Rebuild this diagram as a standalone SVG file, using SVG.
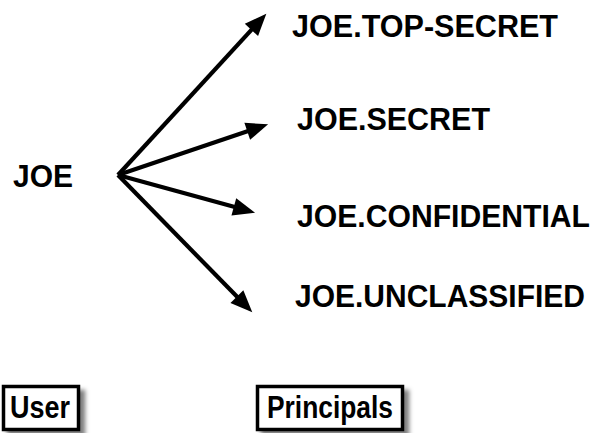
<svg xmlns="http://www.w3.org/2000/svg" width="597" height="433" viewBox="0 0 597 433">
<style>
.lbl{font-family:"Liberation Sans",Arial,sans-serif;font-weight:bold;font-size:30.5px;fill:#000}
.box{fill:#fff;stroke:#000;stroke-width:3.5}
.btxt{font-family:"Liberation Sans",Arial,sans-serif;font-weight:bold;font-size:32px;fill:#000}
.conn{stroke:#000;stroke-width:4.2;fill:none;marker-end:url(#ah)}
</style>
<defs>
<marker id="ah" markerUnits="userSpaceOnUse" markerWidth="24" markerHeight="20" refX="1" refY="9" orient="auto" overflow="visible">
<path d="M0,0 L22,9 L0,18 Z" fill="#000"/>
</marker>
<filter id="sh" x="-20%" y="-20%" width="150%" height="150%">
<feDropShadow dx="5" dy="5" stdDeviation="2" flood-color="#000" flood-opacity="0.5"/>
</filter>
</defs>
<g id="connectors">
<line class="conn" x1="118" y1="175" x2="252.1" y2="29.2"/>
<line class="conn" x1="118" y1="175" x2="248.2" y2="131.0"/>
<line class="conn" x1="118" y1="175" x2="234.8" y2="207.1"/>
<line class="conn" x1="118" y1="175" x2="237.6" y2="297.3"/>
</g>
<g id="joe"><text class="lbl" x="13" y="187" textLength="60" lengthAdjust="spacingAndGlyphs">JOE</text></g>
<g id="top-secret"><text class="lbl" x="292" y="37" textLength="266" lengthAdjust="spacingAndGlyphs">JOE.TOP-SECRET</text></g>
<g id="secret"><text class="lbl" x="297" y="130" textLength="193" lengthAdjust="spacingAndGlyphs">JOE.SECRET</text></g>
<g id="confidential"><text class="lbl" x="297" y="227" textLength="293" lengthAdjust="spacingAndGlyphs">JOE.CONFIDENTIAL</text></g>
<g id="unclassified"><text class="lbl" x="295" y="307" textLength="290" lengthAdjust="spacingAndGlyphs">JOE.UNCLASSIFIED</text></g>
<g id="user">
<rect class="box" x="3.5" y="386.5" width="75" height="43" filter="url(#sh)"/>
<text class="btxt" x="10" y="418" textLength="60" lengthAdjust="spacingAndGlyphs">User</text>
</g>
<g id="principals">
<rect class="box" x="257.5" y="386.5" width="145" height="43" filter="url(#sh)"/>
<text class="btxt" x="267" y="418" textLength="126" lengthAdjust="spacingAndGlyphs">Principals</text>
</g>
</svg>
